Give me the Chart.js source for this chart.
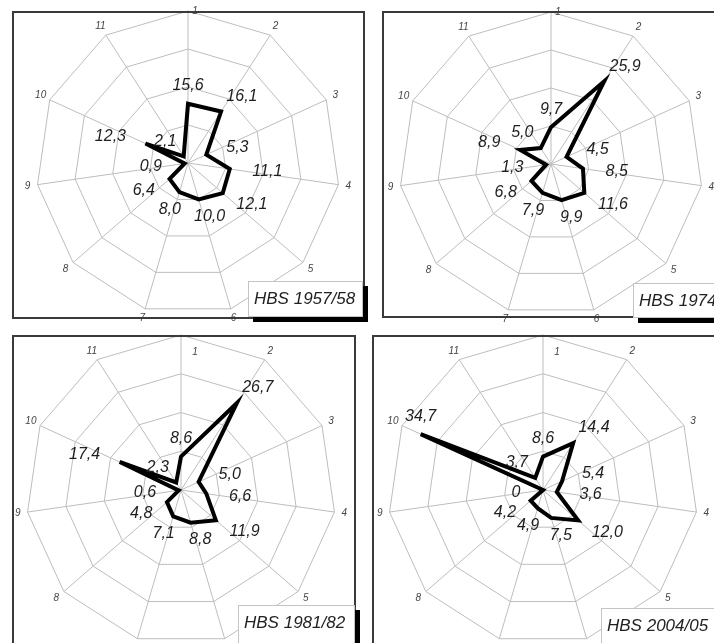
<!DOCTYPE html>
<html>
<head>
<meta charset="utf-8">
<script src="https://cdn.jsdelivr.net/npm/chart.js@4/dist/chart.umd.min.js"></script>
<style>
  html, body { margin: 0; padding: 0; background: #fff; width: 714px; height: 643px; overflow: hidden; }
  body { position: relative; font-family: "Liberation Sans", Arial, sans-serif; }
  canvas { position: absolute; z-index: 1; }
  .panel { position: absolute; box-sizing: border-box; border: 2px solid #3a3a3a; z-index: 2; }
  .tag {
    position: absolute; box-sizing: border-box; z-index: 3;
    background: #fff; border: 1px solid #c4c4c4;
    box-shadow: 5px 5px 0 #000;
    font-style: italic; font-size: 17px; color: #222;
    padding-left: 5px; line-height: 34px; white-space: nowrap;
  }
</style>
</head>
<body>
<div class="panel" style="left:12px;top:11px;width:353px;height:308px"></div>
<div class="panel" style="left:382px;top:11px;width:360px;height:307px"></div>
<div class="panel" style="left:12px;top:335px;width:344px;height:330px"></div>
<div class="panel" style="left:372px;top:335px;width:360px;height:330px"></div>

<div class="tag" style="left:248px;top:281px;width:115px;height:36px">HBS 1957/58</div>
<div class="tag" style="left:633px;top:283px;width:100px;height:35px">HBS 1974</div>
<div class="tag" style="left:238px;top:605px;width:117px;height:40px">HBS 1981/82</div>
<div class="tag" style="left:601px;top:608px;width:130px;height:40px">HBS 2004/05</div>

<canvas id="c1"></canvas>
<canvas id="c2"></canvas>
<canvas id="c3"></canvas>
<canvas id="c4"></canvas>

<script>
// spokes 1..11, values in %
const spokes = ['1', '2', '3', '4', '5', '6', '7', '8', '9', '10', '11'];
const hbs5758 = [15.6, 16.1, 5.3, 11.1, 12.1, 10.0, 8.0, 6.4, 0.9, 12.3, 2.1];
const hbs1974 = [9.7, 25.9, 4.5, 8.5, 11.6, 9.9, 7.9, 6.8, 1.3, 8.9, 5.0];
const hbs8182 = [8.6, 26.7, 5.0, 6.6, 11.9, 8.8, 7.1, 4.8, 0.6, 17.4, 2.3];
const hbs0405 = [8.6, 14.4, 5.4, 3.6, 12.0, 7.5, 4.9, 4.2, 0, 34.7, 3.7];
const rings = [0, 10, 20, 30, 40];

const PAD = 30;

function fmt(v) {
    if (v === 0) return '0';
    return v.toFixed(1).replace('.', ',');
}

// draws the spoke numbers and the value labels
const labelPlugin = {
    id: 'hbsLabels',
    afterDatasetsDraw(chart, args, opts) {
        const ctx = chart.ctx;
        const scale = chart.scales.r;
        const meta = chart.getDatasetMeta(0);
        ctx.save();
        ctx.textAlign = 'center';
        ctx.textBaseline = 'middle';

        ctx.font = 'italic 10px "Liberation Sans", Arial, sans-serif';
        ctx.fillStyle = '#444';
        chart.data.labels.forEach((lab, i) => {
            if (i === 0) {
                const p = scale.getPointPosition(0, scale.drawingArea - opts.firstDrop);
                ctx.fillText(lab, p.x + opts.firstShift, p.y);
            } else {
                const p = scale.getPointPosition(i, scale.drawingArea + 10);
                ctx.fillText(lab, p.x, p.y);
            }
        });

        ctx.font = 'italic 16px "Liberation Sans", Arial, sans-serif';
        ctx.fillStyle = '#1e1e1e';
        const data = chart.data.datasets[0].data;
        meta.data.forEach((pt, i) => {
            const txt = fmt(data[i]);
            const w = ctx.measureText(txt).width;
            const a = scale.getIndexAngle(i);
            let x = pt.x + Math.sin(a) * (w / 2 + 23);
            let y = pt.y - Math.cos(a) * 18;
            if (x - w / 2 < opts.minX) {
                x = pt.x;
                y = pt.y - 18;
            }
            ctx.fillText(txt, x, y);
        });
        ctx.restore();
    }
};

function makeRadar(id, values, cx, cy, R, panelLeft, firstDrop, firstShift) {
    const canvas = document.getElementById(id);
    const size = 2 * R + 2 * PAD;
    const left = cx - R - PAD;
    canvas.width = size;
    canvas.height = size;
    canvas.style.left = left + 'px';
    canvas.style.top = (cy - R - PAD) + 'px';

    return new Chart(canvas, {
        type: 'radar',
        data: {
            labels: spokes,
            datasets: [{
                data: values,
                borderColor: '#000',
                borderWidth: 4,
                borderJoinStyle: 'miter',
                backgroundColor: 'rgba(0,0,0,0)',
                fill: false,
                pointRadius: 0,
                pointHoverRadius: 0,
                tension: 0
            }]
        },
        options: {
            responsive: false,
            animation: false,
            devicePixelRatio: 1,
            layout: { padding: PAD },
            plugins: {
                legend: { display: false },
                tooltip: { enabled: false },
                hbsLabels: { minX: panelLeft - left + 4, firstDrop: firstDrop, firstShift: firstShift }
            },
            scales: {
                r: {
                    min: rings[0],
                    max: rings[rings.length - 1],
                    ticks: { display: false, stepSize: rings[1] - rings[0] },
                    pointLabels: { display: false },
                    grid: { color: '#bdbdbd', lineWidth: 1 },
                    angleLines: { color: '#bdbdbd', lineWidth: 1 }
                }
            }
        },
        plugins: [labelPlugin]
    });
}

makeRadar('c1', hbs5758, 188, 163, 152, 12, 0, 7);
makeRadar('c2', hbs1974, 551, 164, 152, 382, 0, 7);
makeRadar('c3', hbs8182, 181, 490, 155, 12, 17, 14);
makeRadar('c4', hbs0405, 543, 490, 155, 372, 17, 14);
</script>
</body>
</html>
